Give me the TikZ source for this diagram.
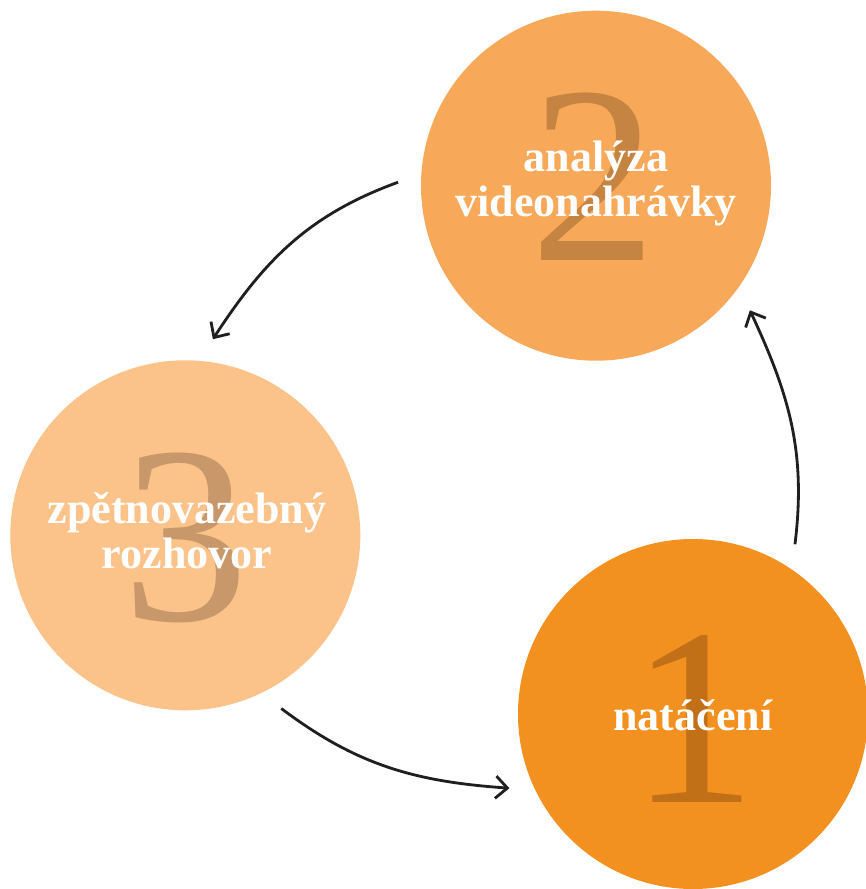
\documentclass[tikz,border=0pt]{standalone}
\usepackage{fontspec}
\setmainfont{Liberation Serif}
\usetikzlibrary{arrows.meta}
\definecolor{stageone}{HTML}{F39120}
\definecolor{stagetwo}{HTML}{F7A858}
\definecolor{stagethree}{HTML}{FBC38A}
\definecolor{digitone}{HTML}{C27017}
\definecolor{digittwo}{HTML}{C58441}
\definecolor{digitthree}{HTML}{C8986A}
\tikzset{
  stage/.style={circle, minimum size=10.5cm, inner sep=0pt, outer sep=0.69cm},
  digit/.style={font=\fontsize{216pt}{216pt}\selectfont, inner sep=0pt, anchor=base},
  stagetext/.style={font=\fontsize{37.6pt}{38.4pt}\selectfont\bfseries, text=white, align=center, inner sep=0pt, anchor=base},
  cycle arrow/.style={-{Straight Barb[length=10pt,width=19pt]}, line width=2.4pt, black!88}
}
\begin{document}
\begin{tikzpicture}[x=0.03cm,y=-0.03cm]
\useasboundingbox (0,0) rectangle (866,889);
\clip (0,0) rectangle (866,889);
\node[stage, fill=stageone] (c1) at (693,714) {};
\node[stage, fill=stagetwo] (c2) at (596,185.7) {};
\node[stage, fill=stagethree] (c3) at (185.3,535.3) {};
\node[digit, text=digitone] (n1) at (694,802) {1};
\node[digit, text=digittwo] (n2) at (594,260) {2};
\node[digit, text=digitthree] (n3) at (185.5,620) {3};
\node[stagetext] (t1) at (693,730) {natáčení};
\node[stagetext] (t2) at (596,216) {analýza\\videonahrávky};
\node[stagetext] (t3) at (187,568) {zpětnovazebný\\rozhovor};
\draw[cycle arrow] (c2.179) to[out=200,in=57] (c3.82);
\draw[cycle arrow] (c3.-61) to[out=-37,in=176] (c1.-158);
\draw[cycle arrow] (c1.59) to[out=83,in=-65] (c2.-39);
\end{tikzpicture}
\end{document}
